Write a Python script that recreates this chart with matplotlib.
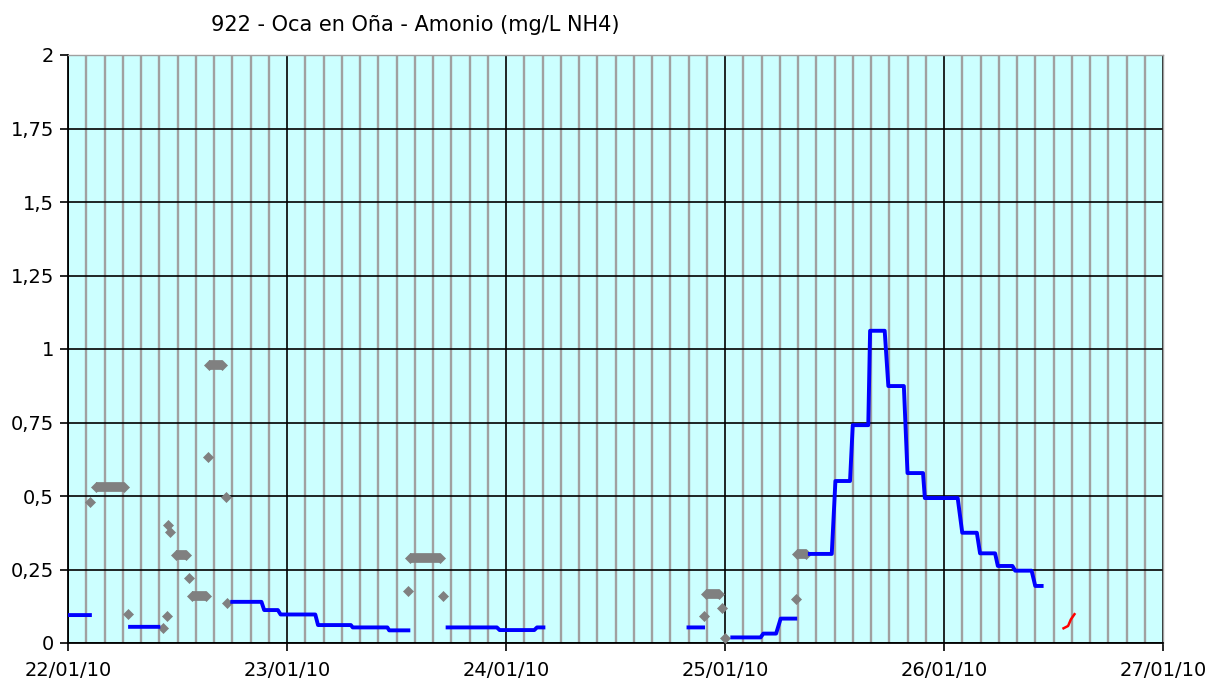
import numpy as np
import matplotlib
matplotlib.use("Agg")
import matplotlib.pyplot as plt
from matplotlib.ticker import MultipleLocator, FuncFormatter


# hours since 22/01/10 00:00
DAY_LABELS = ["22/01/10", "23/01/10", "24/01/10", "25/01/10", "26/01/10", "27/01/10"]

# blue series: constant levels (start hour, end hour, value)
blue_start = [0.0, 6.8, 18.0, 21.5, 23.3, 27.4, 31.2, 35.2, 41.6, 47.3, 51.4, 68.0,
              72.8, 76.2, 78.1, 81.3, 84.1, 86.0, 87.9, 89.9, 92.0, 93.9, 98.0,
              99.95, 101.9, 103.8, 106.0]
blue_end = [2.4, 9.9, 21.2, 23.0, 27.1, 31.0, 35.0, 37.3, 47.0, 51.1, 52.1, 69.6,
            75.9, 77.6, 79.7, 83.7, 85.7, 87.7, 89.5, 91.6, 93.7, 97.5, 99.6,
            101.6, 103.5, 105.6, 106.7]
blue_val = [0.095, 0.055, 0.14, 0.112, 0.097, 0.061, 0.053, 0.043, 0.053, 0.044, 0.053, 0.053,
            0.019, 0.032, 0.083, 0.303, 0.551, 0.741, 1.062, 0.874, 0.578, 0.493, 0.375,
            0.305, 0.262, 0.246, 0.194]

# grey series: single readings
grey_h = [2.41, 6.54, 10.44, 10.82, 10.99, 11.18, 13.26, 15.31, 17.3, 17.46,
          37.3, 41.1, 69.7, 71.7, 72.0, 79.75]
grey_v = [0.478, 0.097, 0.05, 0.093, 0.401, 0.379, 0.22, 0.632, 0.498, 0.137,
          0.178, 0.161, 0.093, 0.12, 0.016, 0.149]
# grey series: runs of equal readings (first hour, last hour, value)
grey_run_start = [3.07, 11.8, 13.6, 15.5, 37.5, 69.9, 79.9]
grey_run_end = [6.14, 12.9, 15.1, 16.9, 40.8, 71.3, 80.9]
grey_run_val = [0.532, 0.299, 0.161, 0.946, 0.288, 0.167, 0.302]

# red series
red_h = [109.1, 109.6, 109.9, 110.3]
red_v = [0.05, 0.058, 0.08, 0.098]


# build the blue line, breaking it where there is no data
bx, by = [], []
for i in range(len(blue_start)):
    if i > 0 and blue_start[i] - blue_end[i - 1] > 1.0:
        bx.append(np.nan)
        by.append(np.nan)
    bx += [blue_start[i], blue_end[i]]
    by += [blue_val[i], blue_val[i]]

fig = plt.figure(figsize=(12.08, 6.8), dpi=100)
ax = fig.add_axes([68 / 1208, 1 - 643 / 680, (1163 - 68) / 1208, (643 - 55) / 680])
ax.set_facecolor("#CCFFFF")

ax.set_xlim(0, 120)
ax.set_ylim(0, 2)
ax.xaxis.set_minor_locator(MultipleLocator(2))
ax.yaxis.set_major_locator(MultipleLocator(0.25))
ax.set_xticks(np.arange(0, 121, 24))
ax.set_xticklabels(DAY_LABELS)
ax.yaxis.set_major_formatter(FuncFormatter(lambda v, p: f"{v:g}".replace(".", ",")))

ax.grid(True, which="minor", axis="x", color="#A0A0A0", linewidth=1.7)
ax.grid(True, which="major", axis="both", color="black", linewidth=1.2)
ax.set_axisbelow(True)

ax.tick_params(which="major", direction="out", length=6, width=1.2, labelsize=14,
               colors="black")
ax.tick_params(which="minor", length=0)
ax.tick_params(axis="x", pad=7)
ax.tick_params(axis="y", pad=4)

for s in ["left", "bottom"]:
    ax.spines[s].set_color("black")
    ax.spines[s].set_linewidth(1.3)
for s in ["top", "right"]:
    ax.spines[s].set_color("#A0A0A0")
    ax.spines[s].set_linewidth(1.0)

grey = "#808080"
for s0, s1, v in zip(grey_run_start, grey_run_end, grey_run_val):
    ax.plot([s0, s1], [v, v], color=grey, linewidth=7.0, solid_capstyle="butt",
            marker="D", markersize=5.2, markeredgewidth=0.5, zorder=3)
ax.plot(grey_h, grey_v, linestyle="none", marker="D", color=grey,
        markersize=5.2, markeredgewidth=0.5, zorder=3)

ax.plot(bx, by, color="#0000FF", linewidth=2.8, zorder=4)
ax.plot(red_h, red_v, color="#FF0000", linewidth=1.8, zorder=4)

fig.text(415 / 1208, 1 - 25 / 680, "922 - Oca en Oña - Amonio (mg/L NH4)",
         ha="center", va="center", fontsize=15)

fig.savefig("out.png", dpi=100)
